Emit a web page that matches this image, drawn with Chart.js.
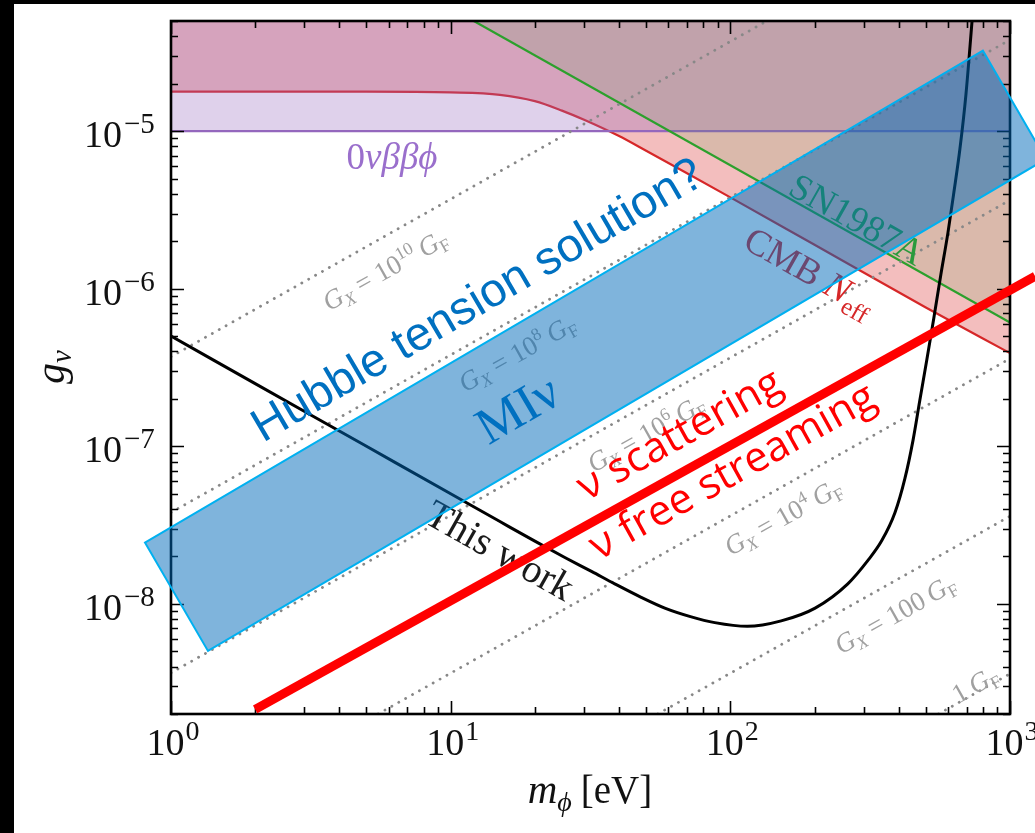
<!DOCTYPE html>
<html><head><meta charset="utf-8">
<script src="https://cdn.jsdelivr.net/npm/chart.js@4/dist/chart.umd.min.js"></script>
<style>html,body{margin:0;padding:0;background:#fff;}canvas{display:block;}</style>
</head><body>
<canvas id="c" width="1035" height="833"></canvas>
<script>
// ---------------- data ----------------
const xTickValues = [1, 10, 100, 1000];
const xTickExps = ['0', '1', '2', '3'];
const yTickValues = [1e-8, 1e-7, 1e-6, 1e-5];
const yTickExps = ['\u22128', '\u22127', '\u22126', '\u22125'];

// CMB N_eff bound (red)
const cmbMass = [1, 3, 5, 10, 15, 20, 25, 30, 40, 50, 70, 100, 200, 500, 1000];
const cmbG = [1.78e-5, 1.78e-5, 1.78e-5, 1.76e-5, 1.70e-5, 1.55e-5, 1.35e-5, 1.18e-5, 9.3e-6, 7.5e-6, 5.4e-6, 3.8e-6, 1.9e-6, 7.6e-7, 3.9e-7];

// 0nu beta beta phi bound (purple)
const bbMass = [1, 1000];
const bbG = [1e-5, 1e-5];

// SN1987A bound (green)
const snMass = [12.1, 1000];
const snG = [5.0e-5, 6.1e-7];

// "This work" (black)
const thisWorkMass = [1, 2, 5, 10, 15, 20, 25.6, 32, 38.6, 48, 58.3, 72, 88, 115, 152, 201, 263, 310, 348, 388, 421, 450, 476, 504, 534, 566, 600, 630, 662, 696, 733];
const thisWorkG = [5.0e-7, 2.5e-7, 1.0e-7, 5.0e-8, 3.33e-8, 2.5e-8, 1.97e-8, 1.6e-8, 1.34e-8, 1.1e-8, 9.4e-9, 8.3e-9, 7.6e-9, 7.2e-9, 7.8e-9, 9.4e-9, 1.34e-8, 1.88e-8, 2.52e-8, 3.8e-8, 6.25e-8, 1.09e-7, 1.96e-7, 3.53e-7, 6.5e-7, 1.23e-6, 2.27e-6, 4.09e-6, 7.7e-6, 1.72e-5, 5.2e-5];

// dotted G_X contours
const gx10Mass = [1, 135];   const gx10G = [3.7e-7, 5.0e-5];
const gx8Mass  = [1, 1000];  const gx8G  = [3.8e-8, 3.8e-5];
const gx6Mass  = [1, 1000];  const gx6G  = [3.65e-9, 3.65e-6];
const gx4Mass  = [5.5, 1000]; const gx4G = [2.0e-9, 3.6e-7];
const gx2Mass  = [55, 1000]; const gx2G  = [2.0e-9, 3.6e-8];
const gx0Mass  = [555, 1000]; const gx0G = [2.0e-9, 3.6e-9];

// scattering / free-streaming boundary (thick red)
const boundaryMass = [2, 1230];
const boundaryG = [2.14e-9, 1.2e-6];

// "MI nu" box corners
const boxMass = [0.807, 1.356, 1343, 800];
const boxG = [2.45e-8, 5.03e-9, 6.64e-6, 3.24e-5];

// ---------------- helpers ----------------
const SERIF = '"Liberation Serif","DejaVu Serif",serif';
const SANS = '"Liberation Sans",Arial,sans-serif';
const OSANS = '"Open Sans","Noto Sans",sans-serif';
const fnt = (sz, it, fam) => (it ? 'italic ' : '') + sz + 'px ' + (fam || SERIF);
const pts = (m, g) => m.map((v, i) => ({x: v, y: g[i]}));

function drawRich(ctx, segs, x, y, ang, color, align, vshift) {
  ctx.save();
  ctx.translate(x, y);
  ctx.rotate(ang || 0);
  ctx.fillStyle = color;
  ctx.textBaseline = 'alphabetic';
  ctx.textAlign = 'left';
  let w = 0;
  for (const s of segs) { ctx.font = s.f; w += ctx.measureText(s.t).width + (s.gap || 0); }
  let cx = align === 'center' ? -w / 2 : align === 'right' ? -w : 0;
  for (const s of segs) {
    ctx.font = s.f;
    ctx.fillText(s.t, cx, (vshift || 0) + (s.dy || 0));
    cx += ctx.measureText(s.t).width + (s.gap || 0);
  }
  ctx.restore();
}

function lineAngle(ch, logSlope) {
  const xs = ch.scales.x, ys = ch.scales.y;
  const x1 = xs.getPixelForValue(10), x2 = xs.getPixelForValue(100);
  const y1 = ys.getPixelForValue(1e-7), y2 = ys.getPixelForValue(1e-7 * Math.pow(10, logSlope));
  return Math.atan2(y2 - y1, x2 - x1);
}

function gxSegs(exp, sz) {
  const segs = [];
  if (exp !== '1') {
    segs.push({t: 'G', f: fnt(sz, true)}, {t: 'X', f: fnt(sz * 0.66, true), dy: sz * 0.2}, {t: ' = ', f: fnt(sz)});
    if (exp === '100') segs.push({t: '100', f: fnt(sz), gap: sz * 0.2});
    else segs.push({t: '10', f: fnt(sz)}, {t: exp, f: fnt(sz * 0.66), dy: -sz * 0.38, gap: sz * 0.2});
  } else {
    segs.push({t: '1', f: fnt(sz), gap: sz * 0.2});
  }
  segs.push({t: 'G', f: fnt(sz, true)}, {t: 'F', f: fnt(sz * 0.66), dy: sz * 0.2});
  return segs;
}

const gxLabelText = ['10', '8', '6', '4', '100', '1'];
const gxLabelMass = [5.82, 17.3, 49.9, 154, 388, 749];
const gxLabelG = [1.32e-6, 3.91e-7, 1.21e-7, 3.58e-8, 8.63e-9, 3.09e-9];

function drawFrame(ch) {
  const {ctx, chartArea: a, scales: {x, y}} = ch;
  ctx.save();
  ctx.strokeStyle = '#000';
  ctx.lineWidth = 1.6;
  ctx.beginPath();
  for (let e = 0; e <= 3; e++) {
    for (let k = 1; k <= 9; k++) {
      const v = k * Math.pow(10, e);
      if (v > 1000) break;
      const px = Math.round(x.getPixelForValue(v)) + 0.5;
      const L = k === 1 ? 13 : 7;
      ctx.moveTo(px, a.bottom); ctx.lineTo(px, a.bottom - L);
      ctx.moveTo(px, a.top); ctx.lineTo(px, a.top + L);
    }
  }
  for (let e = -9; e <= -5; e++) {
    for (let k = 1; k <= 9; k++) {
      const v = k * Math.pow(10, e);
      if (v < 2e-9 * 0.999 || v > 5e-5 * 1.001) continue;
      const py = Math.round(y.getPixelForValue(v)) + 0.5;
      const L = k === 1 ? 13 : 7;
      ctx.moveTo(a.left, py); ctx.lineTo(a.left + L, py);
      ctx.moveTo(a.right, py); ctx.lineTo(a.right - L, py);
    }
  }
  ctx.stroke();
  ctx.lineWidth = 2.6;
  ctx.strokeRect(a.left, a.top, a.right - a.left, a.bottom - a.top);
  ctx.restore();
}

function drawCurveLabels(ch) {
  const {ctx, scales: {x, y}} = ch;
  const up = lineAngle(ch, 1), down = lineAngle(ch, -1);
  gxLabelText.forEach((t, i) => {
    drawRich(ctx, gxSegs(t, 27), x.getPixelForValue(gxLabelMass[i]), y.getPixelForValue(gxLabelG[i]), up, '#a0a0a0', 'center', 9);
  });
  drawRich(ctx, [{t: '0', f: fnt(37)}, {t: '\u03bd\u03b2\u03b2\u03d5', f: fnt(37, true)}],
    x.getPixelForValue(6.17), y.getPixelForValue(6.82e-6), 0, '#9a6fcc', 'center', 12);
  drawRich(ctx, [{t: 'SN1987A', f: fnt(37)}], x.getPixelForValue(283.7), y.getPixelForValue(2.75e-6), down, '#2a9a3c', 'center', 12);
  drawRich(ctx, [{t: 'CMB ', f: fnt(37)}, {t: 'N', f: fnt(37, true)}, {t: 'eff', f: fnt(25), dy: 8}],
    x.getPixelForValue(192.6), y.getPixelForValue(1.28e-6), down, '#d62728', 'center', 12);
  drawRich(ctx, [{t: 'This work', f: fnt(40)}], x.getPixelForValue(15.0), y.getPixelForValue(2.18e-8), down, '#1a1a1a', 'center', 13);
}

function drawBox(ch) {
  const {ctx, scales: {x, y}} = ch;
  const P = boxMass.map((m, i) => [x.getPixelForValue(m), y.getPixelForValue(boxG[i])]);
  ctx.save();
  ctx.beginPath();
  P.forEach((p, i) => i ? ctx.lineTo(p[0], p[1]) : ctx.moveTo(p[0], p[1]));
  ctx.closePath();
  ctx.fillStyle = 'rgba(0,105,185,0.5)';
  ctx.fill();
  ctx.lineWidth = 2;
  ctx.strokeStyle = '#00b0f0';
  ctx.stroke();
  ctx.restore();
  const ang = Math.atan2(P[3][1] - P[0][1], P[3][0] - P[0][0]);
  drawRich(ctx, [{t: 'Hubble tension solution?', f: fnt(47, false, SANS)}],
    x.getPixelForValue(13.27), y.getPixelForValue(7.03e-7), ang, '#0070c0', 'center', 0);
  drawRich(ctx, [{t: 'MI\u03bd', f: fnt(52)}],
    x.getPixelForValue(17.26), y.getPixelForValue(1.75e-7), ang, '#0070c0', 'center', 18);
}

function drawRegimeLabels(ch) {
  const {ctx, scales: {x, y}} = ch;
  const ang = Math.atan2(y.getPixelForValue(boundaryG[1]) - y.getPixelForValue(boundaryG[0]),
                         x.getPixelForValue(boundaryMass[1]) - x.getPixelForValue(boundaryMass[0]));
  drawRich(ctx, [{t: '\u03bd scattering', f: fnt(42, false, OSANS)}], x.getPixelForValue(66.0), y.getPixelForValue(1.17e-7), ang, '#ff0000', 'center', 12);
  drawRich(ctx, [{t: '\u03bd free streaming', f: fnt(42, false, OSANS)}], x.getPixelForValue(102.2), y.getPixelForValue(6.82e-8), ang, '#ff0000', 'center', 12);
}

function drawTickLabels(ch) {
  const {ctx, scales: {x, y}} = ch;
  xTickValues.forEach((v, i) => {
    const px = x.getPixelForValue(v) + 2;
    drawRich(ctx, [{t: '10', f: fnt(38), gap: 1}, {t: xTickExps[i], f: fnt(28), dy: -15}], px, 755, 0, '#111', 'center', 0);
  });
  yTickValues.forEach((v, i) => {
    const py = y.getPixelForValue(v);
    drawRich(ctx, [{t: '10', f: fnt(38), gap: 2}, {t: yTickExps[i], f: fnt(29), dy: -14}], 84, py + 16, 0, '#111', 'left', 0);
  });
}

function drawTitles(ch) {
  const {ctx} = ch;
  drawRich(ctx, [{t: 'g', f: fnt(42, true)}, {t: '\u03bd', f: fnt(29, true), dy: 7}], 64, 367, -Math.PI / 2, '#111', 'center', 0);
  drawRich(ctx, [{t: 'm', f: fnt(41, true)}, {t: '\u03d5', f: fnt(28, true), dy: 8, gap: 9}, {t: '[eV]', f: fnt(39)}], 590, 803, 0, '#111', 'center', 0);
}

function drawBorder(ch) {
  const c = ch.ctx;
  c.save();
  c.fillStyle = '#000';
  c.fillRect(0, 0, 14, ch.height);
  c.fillRect(0, 0, ch.width, 4);
  c.restore();
}

const overlay = {
  id: 'overlay',
  beforeDraw(ch) { const c = ch.ctx; c.save(); c.fillStyle = '#fff'; c.fillRect(0, 0, ch.width, ch.height); c.restore(); },
  afterDatasetDraw(ch, args) { if (args.index === 1) { drawFrame(ch); drawCurveLabels(ch); drawBox(ch); } },
  afterDatasetsDraw(ch) { drawRegimeLabels(ch); drawTickLabels(ch); drawTitles(ch); drawBorder(ch); }
};

const dotted = (m, g) => ({data: pts(m, g), borderColor: '#888888', borderWidth: 2.8, borderDash: [0.1, 7.8], borderCapStyle: 'round', fill: false, pointRadius: 0});

new Chart(document.getElementById('c'), {
  type: 'line',
  data: {
    datasets: [
      {label: 'boundary', data: pts(boundaryMass, boundaryG), borderColor: '#ff0000', borderWidth: 9, pointRadius: 0, fill: false, clip: false},
      {label: 'This work', data: pts(thisWorkMass, thisWorkG), borderColor: '#000', borderWidth: 3, pointRadius: 0, fill: false, cubicInterpolationMode: 'monotone'},
      dotted(gx10Mass, gx10G), dotted(gx8Mass, gx8G), dotted(gx6Mass, gx6G),
      dotted(gx4Mass, gx4G), dotted(gx2Mass, gx2G), dotted(gx0Mass, gx0G),
      {label: 'SN1987A', data: pts(snMass, snG), borderColor: '#2ca02c', borderWidth: 2.2, pointRadius: 0, fill: 'end', backgroundColor: 'rgba(44,160,44,0.12)'},
      {label: '0nbbphi', data: pts(bbMass, bbG), borderColor: '#9467bd', borderWidth: 2.2, pointRadius: 0, fill: 'end', backgroundColor: 'rgba(148,103,189,0.3)'},
      {label: 'CMB', data: pts(cmbMass, cmbG), borderColor: '#d62728', borderWidth: 2.2, pointRadius: 0, fill: 'end', backgroundColor: 'rgba(214,39,40,0.3)', cubicInterpolationMode: 'monotone'}
    ]
  },
  options: {
    responsive: false, animation: false, devicePixelRatio: 1,
    layout: {padding: {left: 171, right: 25, top: 21, bottom: 119}},
    plugins: {legend: {display: false}, tooltip: {enabled: false}},
    scales: {
      x: {type: 'logarithmic', min: 1, max: 1000, display: false},
      y: {type: 'logarithmic', min: 2e-9, max: 5e-5, display: false}
    }
  },
  plugins: [overlay]
});
</script>
</body></html>
